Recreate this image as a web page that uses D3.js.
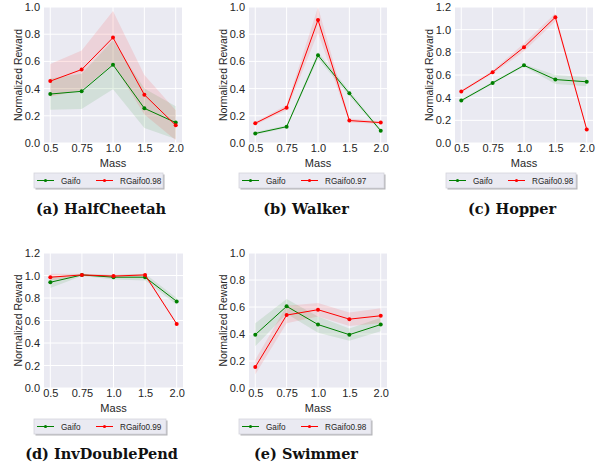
<!DOCTYPE html>
<html>
<head>
<meta charset="utf-8">
<script src="https://cdn.jsdelivr.net/npm/d3@7"></script>
<style>
  body { margin: 0; background: #fff; }
  svg { display: block; }
  .tick text { font-family: "Liberation Sans", Arial, sans-serif; font-size: 11px; fill: #262626; }
</style>
</head>
<body>
<svg id="fig" width="611" height="469"></svg>
<script>
// x categories
var massLabels = ["0.5", "0.75", "1.0", "1.5", "2.0"];

// HalfCheetah
var hcGaifo   = [0.36, 0.38, 0.575, 0.255, 0.15];
var hcGaifoLo = [0.245, 0.25, 0.395, 0.11, 0.03];
var hcGaifoHi = [0.475, 0.51, 0.755, 0.40, 0.27];
var hcRG      = [0.455, 0.54, 0.775, 0.355, 0.13];
var hcRGLo    = [0.34, 0.39, 0.58, 0.21, 0.02];
var hcRGHi    = [0.58, 0.68, 0.97, 0.50, 0.24];

// Walker
var wkGaifo   = [0.07, 0.12, 0.645, 0.365, 0.09];
var wkGaifoLo = [0.06, 0.11, 0.62, 0.345, 0.08];
var wkGaifoHi = [0.08, 0.13, 0.67, 0.385, 0.10];
var wkRG      = [0.145, 0.26, 0.905, 0.165, 0.15];
var wkRGLo    = [0.135, 0.24, 0.81, 0.15, 0.14];
var wkRGHi    = [0.155, 0.28, 1.0, 0.18, 0.16];

// Hopper
var hpGaifo   = [0.375, 0.53, 0.685, 0.56, 0.54];
var hpGaifoLo = [0.365, 0.52, 0.675, 0.52, 0.50];
var hpGaifoHi = [0.385, 0.54, 0.695, 0.60, 0.58];
var hpRG      = [0.455, 0.625, 0.845, 1.11, 0.12];
var hpRGLo    = [0.445, 0.61, 0.81, 1.075, 0.11];
var hpRGHi    = [0.465, 0.64, 0.88, 1.145, 0.13];

// InvDoublePend
var idGaifo   = [0.94, 1.005, 0.985, 0.985, 0.77];
var idGaifoLo = [0.89, 0.995, 0.965, 0.955, 0.74];
var idGaifoHi = [0.99, 1.015, 1.005, 1.015, 0.80];
var idRG      = [0.985, 1.005, 0.995, 1.005, 0.57];
var idRGLo    = [0.955, 0.995, 0.985, 0.995, 0.56];
var idRGHi    = [1.015, 1.015, 1.005, 1.015, 0.58];

// Swimmer
var swGaifo   = [0.395, 0.605, 0.47, 0.395, 0.47];
var swGaifoLo = [0.31, 0.55, 0.41, 0.35, 0.42];
var swGaifoHi = [0.48, 0.66, 0.53, 0.44, 0.52];
var swRG      = [0.155, 0.54, 0.58, 0.51, 0.535];
var swRGLo    = [0.10, 0.48, 0.53, 0.46, 0.48];
var swRGHi    = [0.21, 0.61, 0.63, 0.56, 0.59];

var panels = [
  { caption: "(a) HalfCheetah", rgName: "RGaifo0.98", yMax: 1.0,
    g: [hcGaifo, hcGaifoLo, hcGaifoHi], r: [hcRG, hcRGLo, hcRGHi],
    left: 44, top: 7, w: 138, h: 136, legX: 34, legY: 173, legW: 129 },
  { caption: "(b) Walker", rgName: "RGaifo0.97", yMax: 1.0,
    g: [wkGaifo, wkGaifoLo, wkGaifoHi], r: [wkRG, wkRGLo, wkRGHi],
    left: 249, top: 7, w: 138, h: 136, legX: 239, legY: 173, legW: 145 },
  { caption: "(c) Hopper", rgName: "RGaifo0.98", yMax: 1.2,
    g: [hpGaifo, hpGaifoLo, hpGaifoHi], r: [hpRG, hpRGLo, hpRGHi],
    left: 455, top: 7, w: 138, h: 136, legX: 446, legY: 173, legW: 130 },
  { caption: "(d) InvDoublePend", rgName: "RGaifo0.99", yMax: 1.2,
    g: [idGaifo, idGaifoLo, idGaifoHi], r: [idRG, idRGLo, idRGHi],
    left: 44, top: 253, w: 139, h: 135, legX: 34, legY: 419, legW: 132 },
  { caption: "(e) Swimmer", rgName: "RGaifo0.98", yMax: 1.0,
    g: [swGaifo, swGaifoLo, swGaifoHi], r: [swRG, swRGLo, swRGHi],
    left: 249, top: 253, w: 138, h: 135, legX: 239, legY: 419, legW: 132 }
];

var svg = d3.select("#fig");
var sans = "'Liberation Sans', Arial, sans-serif";

function drawPanel(p) {
  var g = svg.append("g").attr("transform", "translate(" + p.left + "," + p.top + ")");

  var x = d3.scalePoint().domain(massLabels).range([0, p.w]).padding(0.2);
  var y = d3.scaleLinear().domain([0, p.yMax]).range([p.h, 0]);
  var yTicks = d3.range(0, p.yMax + 0.001, 0.2);

  g.append("rect").attr("width", p.w).attr("height", p.h).attr("fill", "#eaeaf2");

  // grid
  g.selectAll(".vg").data(massLabels).enter().append("line")
    .attr("x1", function (d) { return x(d); }).attr("x2", function (d) { return x(d); })
    .attr("y1", 0).attr("y2", p.h)
    .attr("stroke", "#fff").attr("stroke-width", 1);
  g.selectAll(".hg").data(yTicks).enter().append("line")
    .attr("x1", 0).attr("x2", p.w)
    .attr("y1", function (d) { return y(d); }).attr("y2", function (d) { return y(d); })
    .attr("stroke", "#fff").attr("stroke-width", 1);

  // axes (labels only)
  var xa = g.append("g").attr("transform", "translate(0," + p.h + ")")
    .call(d3.axisBottom(x).tickSize(0).tickPadding(1.5));
  xa.select(".domain").remove();
  var ya = g.append("g")
    .call(d3.axisLeft(y).tickValues(yTicks).tickFormat(d3.format(".1f")).tickSize(0).tickPadding(4));
  ya.select(".domain").remove();

  g.append("text")
    .attr("x", p.w / 2).attr("y", p.h + 23.5)
    .attr("text-anchor", "middle")
    .style("font-family", sans).style("font-size", "11px").style("fill", "#262626")
    .text("Mass");

  g.append("text")
    .attr("transform", "translate(" + (-22) + "," + (p.h / 2) + ") rotate(-90)")
    .attr("text-anchor", "middle")
    .style("font-family", sans).style("font-size", "10.5px").style("fill", "#262626")
    .text("Normalized Reward");

  var series = [
    { vals: p.g, color: "green" },
    { vals: p.r, color: "red" }
  ];

  var area = d3.area()
    .x(function (d, i) { return x(massLabels[i]); })
    .y0(function (d) { return y(d[0]); })
    .y1(function (d) { return y(d[1]); });
  var line = d3.line()
    .x(function (d, i) { return x(massLabels[i]); })
    .y(function (d) { return y(d); });

  series.forEach(function (s) {
    var band = s.vals[1].map(function (lo, i) { return [lo, s.vals[2][i]]; });
    g.append("path").datum(band)
      .attr("d", area)
      .attr("fill", s.color).attr("fill-opacity", 0.1);
  });
  series.forEach(function (s) {
    g.append("path").datum(s.vals[0])
      .attr("d", line)
      .attr("fill", "none").attr("stroke", s.color).attr("stroke-width", 1);
    g.selectAll(null).data(s.vals[0]).enter().append("circle")
      .attr("cx", function (d, i) { return x(massLabels[i]); })
      .attr("cy", function (d) { return y(d); })
      .attr("r", 2)
      .attr("fill", s.color);
  });

  // legend
  var lg = svg.append("g").attr("transform", "translate(" + p.legX + "," + p.legY + ")");
  lg.append("rect").attr("x", 1.5).attr("y", 1.5).attr("width", p.legW).attr("height", 15)
    .attr("fill", "#b4b4b8");
  lg.append("rect").attr("width", p.legW).attr("height", 15)
    .attr("fill", "#eaeaf2").attr("stroke", "#d4d4dc").attr("stroke-width", 0.8);
  var items = [
    { name: "Gaifo", color: "green", lx: 3, tx: 27 },
    { name: p.rgName, color: "red", lx: 62, tx: 86 }
  ];
  items.forEach(function (it) {
    lg.append("line").attr("x1", it.lx).attr("x2", it.lx + 17)
      .attr("y1", 7.5).attr("y2", 7.5)
      .attr("stroke", it.color).attr("stroke-width", 1);
    lg.append("circle").attr("cx", it.lx + 8.5).attr("cy", 7.5).attr("r", 1.6).attr("fill", it.color);
    lg.append("text").attr("x", it.tx).attr("y", 10.5)
      .style("font-family", sans).style("font-size", "8.2px").style("fill", "#262626")
      .text(it.name);
  });

  // caption
  svg.append("text")
    .attr("x", p.left + p.w / 2 - 12).attr("y", p.top + p.h + 71)
    .attr("text-anchor", "middle")
    .style("font-family", "'DejaVu Serif', serif").style("font-weight", "bold")
    .style("font-size", "14.5px").style("fill", "#111")
    .text(p.caption);
}

panels.forEach(drawPanel);
</script>
</body>
</html>
